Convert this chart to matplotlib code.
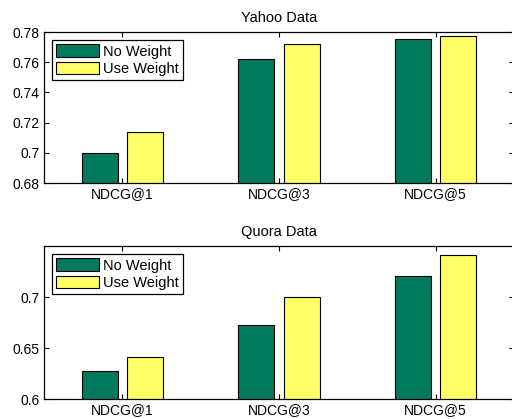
import matplotlib
matplotlib.use('Agg')
import matplotlib.pyplot as plt
import numpy as np

plt.rcParams['font.family'] = ['Liberation Sans', 'DejaVu Sans']

metrics = ['NDCG@1', 'NDCG@3', 'NDCG@5']
yahoo_no_weight = [0.6997, 0.7619, 0.7756]
yahoo_use_weight = [0.7136, 0.7718, 0.7775]
quora_no_weight = [0.6276, 0.6724, 0.7207]
quora_use_weight = [0.6408, 0.7000, 0.7414]

GREEN = '#007a5e'
YELLOW = '#ffff66'

fig = plt.figure(figsize=(5.12, 4.19), dpi=100)
ax_top = fig.add_axes([0.0859, 0.5632, 0.918, 0.3604])
ax_bot = fig.add_axes([0.0859, 0.0477, 0.918, 0.3652])

x = np.arange(1, len(metrics) + 1)
off = 0.145
w = 0.23

panels = [
    (ax_top, 'Yahoo Data', yahoo_no_weight, yahoo_use_weight,
     (0.68, 0.78), [0.68, 0.70, 0.72, 0.74, 0.76, 0.78],
     ['0.68', '0.7', '0.72', '0.74', '0.76', '0.78']),
    (ax_bot, 'Quora Data', quora_no_weight, quora_use_weight,
     (0.6, 0.75), [0.6, 0.65, 0.7], ['0.6', '0.65', '0.7']),
]

for ax, title, no_w, use_w, ylim, yt, ytl in panels:
    ax.bar(x - off, no_w, width=w, color=GREEN, edgecolor='black',
           linewidth=0.8, label='No Weight')
    ax.bar(x + off, use_w, width=w, color=YELLOW, edgecolor='black',
           linewidth=0.8, label='Use Weight')
    ax.set_xlim(0.5, 3.5)
    ax.set_ylim(*ylim)
    ax.set_yticks(yt)
    ax.set_yticklabels(ytl)
    ax.set_xticks(x)
    ax.set_xticklabels(metrics)
    ax.tick_params(direction='in', top=True, right=True, length=3.5,
                   width=0.8, labelsize=10, pad=3)
    for s in ax.spines.values():
        s.set_linewidth(0.9)
    ax.set_title(title, fontsize=10.5, pad=7)
    leg = ax.legend(loc='upper left', fontsize=10.5, fancybox=False,
                    framealpha=1, edgecolor='black', borderaxespad=0.55,
                    handlelength=2.9, handleheight=0.95, handletextpad=0.3,
                    labelspacing=0.2, borderpad=0.3)
    leg.get_frame().set_linewidth(0.9)

fig.savefig('out.png', dpi=100)
